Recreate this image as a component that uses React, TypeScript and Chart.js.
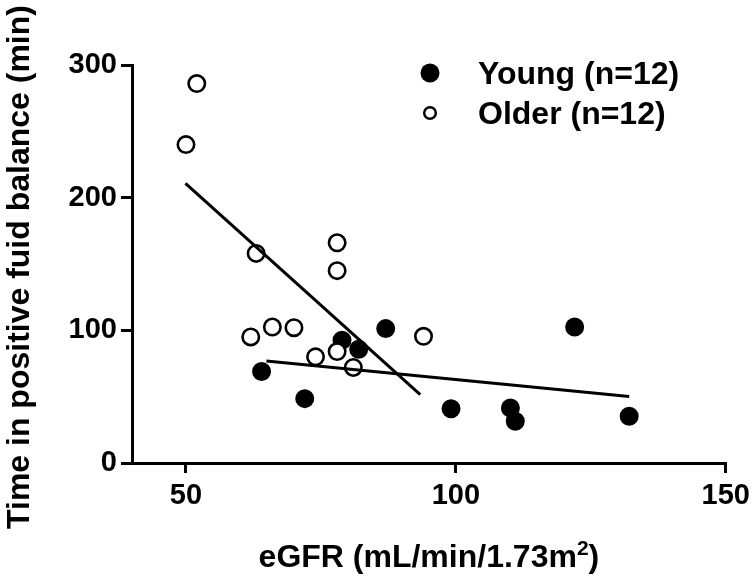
import React, { useEffect, useRef } from "react";
import { Chart, registerables } from "chart.js";

Chart.register(...registerables);

const youngX = [64, 72, 78.9, 82, 87, 99.1, 110.1, 111, 122, 132.1];
const youngY = [69, 48.5, 92.5, 85.7, 101.3, 40.9, 41.4, 31.5, 102.5, 35.3];
const olderX = [50, 52, 78, 78, 63, 62, 66, 70, 74, 78, 81, 94];
const olderY = [240, 286, 166, 145, 158, 95, 102.5, 102, 80, 84, 72, 95.5];
const youngFitX = [64.9, 132.1];
const youngFitY = [76.8, 50.2];
const olderFitX = [49.9, 93.4];
const olderFitY = [210.7, 51.5];
const xTicks = [50, 100, 150];
const yTicks = [0, 100, 200, 300];
const legendLabels = ["Young (n=12)", "Older (n=12)"];
const xTitleMain = "eGFR (mL/min/1.73m";
const xTitleSup = "2";
const xTitleEnd = ")";
const yTitle = "Time in positive fuid balance (min)";

const FONT = "'Liberation Sans', Arial, Helvetica, sans-serif";

const zip = (xs: number[], ys: number[]) => xs.map((x, i) => ({ x, y: ys[i] }));

const overlay = {
  id: "overlay",
  afterDraw(chart: any) {
    const ctx = chart.ctx as CanvasRenderingContext2D;
    ctx.save();
    ctx.fillStyle = "#000";
    ctx.strokeStyle = "#000";
    // legend
    ctx.beginPath();
    ctx.arc(430, 73, 9.5, 0, Math.PI * 2);
    ctx.fill();
    ctx.beginPath();
    ctx.lineWidth = 2.5;
    ctx.arc(430, 113, 5.8, 0, Math.PI * 2);
    ctx.fillStyle = "#fff";
    ctx.fill();
    ctx.stroke();
    ctx.fillStyle = "#000";
    ctx.font = `bold 32px ${FONT}`;
    ctx.textAlign = "left";
    ctx.textBaseline = "alphabetic";
    ctx.fillText(legendLabels[0], 478, 84);
    ctx.fillText(legendLabels[1], 478, 124);

    // x title
    const area = chart.chartArea;
    const cx = (area.left + area.right) / 2;
    ctx.font = `bold 32px ${FONT}`;
    const w1 = ctx.measureText(xTitleMain).width;
    const w3 = ctx.measureText(xTitleEnd).width;
    ctx.font = `bold 21px ${FONT}`;
    const w2 = ctx.measureText(xTitleSup).width;
    const total = w1 + w2 + w3;
    const x0 = cx - total / 2;
    const base = 567;
    ctx.font = `bold 32px ${FONT}`;
    ctx.fillText(xTitleMain, x0, base);
    ctx.font = `bold 21px ${FONT}`;
    ctx.fillText(xTitleSup, x0 + w1, base - 12);
    ctx.font = `bold 32px ${FONT}`;
    ctx.fillText(xTitleEnd, x0 + w1 + w2, base);

    // y title
    ctx.translate(29, 267);
    ctx.rotate(-Math.PI / 2);
    ctx.textAlign = "center";
    ctx.fillText(yTitle, 0, 0);
    ctx.restore();
  },
};

export default function App() {
  const ref = useRef<HTMLCanvasElement>(null);
  useEffect(() => {
    if (!ref.current) return;
    const tickFont = { family: FONT, size: 29, weight: "bold" as const };
    const chart = new Chart(ref.current, {
      type: "scatter",
      data: {
        datasets: [
          {
            label: "Older fit",
            data: zip(olderFitX, olderFitY),
            showLine: true,
            borderColor: "#000",
            borderWidth: 3,
            pointRadius: 0,
            order: 0,
          },
          {
            label: "Young fit",
            data: zip(youngFitX, youngFitY),
            showLine: true,
            borderColor: "#000",
            borderWidth: 3,
            pointRadius: 0,
            order: 0,
          },
          {
            label: legendLabels[1],
            data: zip(olderX, olderY),
            pointRadius: 8.2,
            pointBorderWidth: 2.6,
            pointBackgroundColor: "#fff",
            pointBorderColor: "#000",
            order: 1,
          },
          {
            label: legendLabels[0],
            data: zip(youngX, youngY),
            pointRadius: 8.2,
            pointBorderWidth: 2.6,
            pointBackgroundColor: "#000",
            pointBorderColor: "#000",
            order: 2,
          },
        ],
      },
      options: {
        animation: false,
        responsive: false,
        layout: { padding: { top: 65, right: 27, left: 0, bottom: 0 } },
        plugins: {
          legend: { display: false },
          tooltip: { enabled: false },
        },
        scales: {
          x: {
            type: "linear",
            min: 40,
            max: 150,
            afterBuildTicks: (s: any) => {
              s.ticks = xTicks.map((v) => ({ value: v }));
            },
            afterFit: (s: any) => {
              s.height = 120;
            },
            ticks: { font: tickFont, color: "#000", padding: 6 },
            grid: {
              drawOnChartArea: false,
              tickLength: 10,
              color: "#000",
              lineWidth: 3,
            },
            border: { display: true, color: "#000", width: 3 },
          },
          y: {
            type: "linear",
            min: 0,
            max: 300,
            afterBuildTicks: (s: any) => {
              s.ticks = yTicks.map((v) => ({ value: v }));
            },
            afterFit: (s: any) => {
              s.width = 132;
            },
            ticks: { font: tickFont, color: "#000", padding: 4 },
            grid: {
              drawOnChartArea: false,
              tickLength: 11,
              color: "#000",
              lineWidth: 3,
            },
            border: { display: true, color: "#000", width: 3 },
          },
        },
      },
      plugins: [overlay],
    });
    return () => chart.destroy();
  }, []);
  return (
    <div style={{ position: "absolute", left: 0, top: 0, width: 756, height: 583, background: "#fff" }}>
      <canvas ref={ref} width={756} height={583} style={{ width: 756, height: 583 }} />
    </div>
  );
}
